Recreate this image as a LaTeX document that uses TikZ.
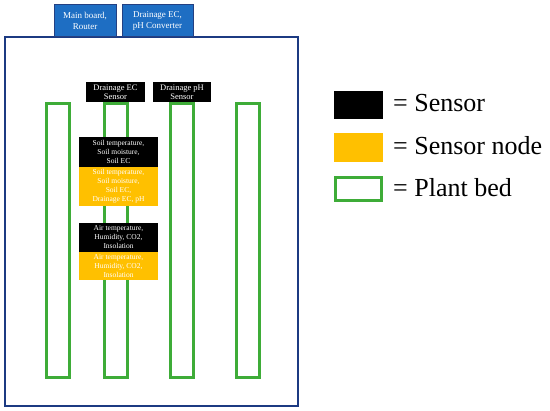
\documentclass[tikz,border=0pt]{standalone}
\usepackage{fontspec}
\setmainfont{Liberation Serif}
\definecolor{bedgreen}{RGB}{62,172,56}
\definecolor{nodeorange}{RGB}{255,192,0}
\definecolor{boxblue}{RGB}{30,110,195}
\definecolor{edgeblue}{RGB}{36,64,130}
\definecolor{framblue}{RGB}{28,58,130}
\tikzset{
  bed/.style={draw=bedgreen, line width=3pt, fill=white},
  sensorbox/.style={fill=black, text=white, inner sep=0pt, align=center, font=\fontsize{7.5}{9}\selectfont},
  nodebox/.style={fill=nodeorange, text=white, inner sep=0pt, align=center, font=\fontsize{7.5}{9}\selectfont},
  topbox/.style={fill=boxblue, draw=edgeblue, line width=1pt, text=white, inner sep=0pt, align=center, font=\fontsize{9}{11}\selectfont},
  legtext/.style={anchor=west, inner sep=0pt, font=\fontsize{26}{30}\selectfont}
}
\begin{document}
\begin{tikzpicture}[x=1pt,y=-1pt]
\useasboundingbox (0,0) rectangle (550,411);
% frame
\node[draw=framblue, line width=1.5pt, minimum width=293, minimum height=369, inner sep=0pt] (frame) at (151.5,221.5) {};
% top boxes
\node[topbox, minimum width=62, minimum height=32] (mainboard) at (85,21) {Main board,\\Router};
\node[topbox, minimum width=71, minimum height=32] (converter) at (157.5,21) {Drainage EC,\\pH Converter};
% plant beds
\node[bed, minimum width=23, minimum height=274, inner sep=0pt] (bed1) at (58,240.5) {};
\node[bed, minimum width=23, minimum height=274, inner sep=0pt] (bed2) at (116,240.5) {};
\node[bed, minimum width=23, minimum height=274, inner sep=0pt] (bed3) at (182,240.5) {};
\node[bed, minimum width=23, minimum height=274, inner sep=0pt] (bed4) at (248,240.5) {};
% drainage sensors
\node[sensorbox, font=\fontsize{8.5}{9.5}\selectfont, minimum width=59, minimum height=20] (ecsensor) at (115.5,92) {Drainage EC\\Sensor};
\node[sensorbox, font=\fontsize{8.5}{9.5}\selectfont, minimum width=58, minimum height=20] (phsensor) at (182,92) {Drainage pH\\Sensor};
% soil sensor + node
\node[sensorbox, minimum width=79, minimum height=30] (soilsensor) at (118.5,152) {Soil temperature,\\Soil moisture,\\Soil EC};
\node[nodebox, minimum width=79, minimum height=39] (soilnode) at (118.5,186.5) {Soil temperature,\\Soil moisture,\\Soil EC,\\Drainage EC, pH};
% air sensor + node
\node[sensorbox, minimum width=79, minimum height=29] (airsensor) at (118.5,237.5) {Air temperature,\\Humidity, CO2,\\Insolation};
\node[nodebox, minimum width=79, minimum height=28] (airnode) at (118.5,266) {Air temperature,\\Humidity, CO2,\\Insolation};
% legend
\node[fill=black, minimum width=49, minimum height=28, inner sep=0pt] (legsensor) at (358.5,105) {};
\node[fill=nodeorange, minimum width=49, minimum height=29, inner sep=0pt] (legnode) at (358.5,147.5) {};
\node[draw=bedgreen, line width=3pt, minimum width=46, minimum height=23, inner sep=0pt] (legbed) at (358.5,189) {};
\node[legtext] (legsensortext) at (393,103) {= Sensor};
\node[legtext] (legnodetext) at (393,146) {= Sensor node};
\node[legtext] (legbedtext) at (393,188) {= Plant bed};
\end{tikzpicture}
\end{document}
